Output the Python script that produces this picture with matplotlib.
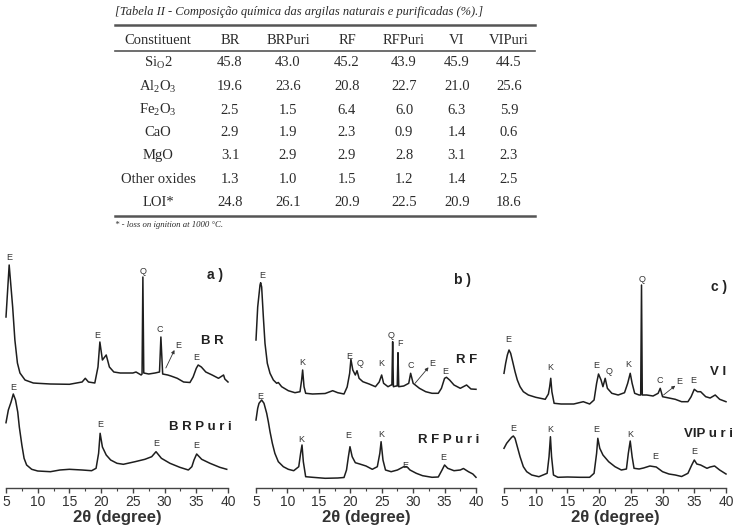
import matplotlib
matplotlib.use("Agg")
import matplotlib.pyplot as plt
from matplotlib.lines import Line2D
from matplotlib.ticker import MultipleLocator

plt.rcParams['mathtext.fontset'] = 'custom'
plt.rcParams['mathtext.rm'] = 'Liberation Serif'
plt.rcParams['mathtext.it'] = 'Liberation Serif:italic'

# ---------------- table data ----------------
table_title = "[Tabela II - Composição química das argilas naturais e purificadas (%).]"
table_note = "* - loss on ignition at 1000 °C."
col_header = "Constituent"
samples = ["BR", "BRPuri", "RF", "RFPuri", "VI", "VIPuri"]
constituents = [r"Si$_\mathrm{O}$2", r"Al$_\mathrm{2}$O$_\mathrm{3}$", r"Fe$_\mathrm{2}$O$_\mathrm{3}$",
                "CaO", "MgO", "Other oxides", "LOI*"]
BR_comp = [45.8, 19.6, 2.5, 2.9, 3.1, 1.3, 24.8]
BRPuri_comp = [43.0, 23.6, 1.5, 1.9, 2.9, 1.0, 26.1]
RF_comp = [45.2, 20.8, 6.4, 2.3, 2.9, 1.5, 20.9]
RFPuri_comp = [43.9, 22.7, 6.0, 0.9, 2.8, 1.2, 22.5]
VI_comp = [45.9, 21.0, 6.3, 1.4, 3.1, 1.4, 20.9]
VIPuri_comp = [44.5, 25.6, 5.9, 0.6, 2.3, 2.5, 18.6]

# ---------------- XRD data (2theta, relative intensity) ----------------
BR_x = [5.0, 5.5, 6.05, 6.4, 6.8, 7.2, 8.0, 9.3, 10.0, 12.0, 15.0, 17.0, 17.5, 18.0, 19.0, 19.5, 19.8, 20.2,
        20.8, 21.3, 22.0, 23.0, 25.0, 25.5, 26.3, 26.45, 26.58, 26.72, 27.5, 28.5, 29.2, 29.42, 29.7, 30.5,
        31.0, 32.0, 33.0, 34.0, 34.5, 35.0, 35.3, 35.8, 36.5, 37.5, 38.5, 39.3, 39.5, 40.0]
BR_I = [171, 223, 181, 148, 125, 115, 108, 105, 104.7, 104, 103.7, 106, 109.7, 106, 105, 121, 146, 128,
        133, 121, 116, 115, 115, 116, 113, 114, 211, 115, 114, 115, 116, 151, 114, 113,
        112, 109.7, 106, 105.5, 111, 119.7, 123, 121, 116, 113, 109.7, 113, 109, 106]

BRPuri_x = [5.0, 5.37, 5.8, 6.15, 6.5, 6.85, 7.1, 7.5, 7.85, 8.25, 9.05, 10.0, 12.0, 13.5, 15.0, 17.0, 18.5,
            19.2, 19.6, 19.84, 20.2, 20.8, 21.5, 22.5, 23.5, 25.34, 26.9, 27.97, 28.65, 29.5, 30.85, 32.4,
            33.75, 34.3, 34.64, 35.06, 35.85, 37.16, 38.7, 39.8]
BRPuri_I = [65.3, 78, 86, 94, 88, 76, 61, 43, 29.7, 23, 18.7, 17, 16.3, 18, 18.7, 18, 17.3,
            19.7, 34.7, 54.7, 41, 33, 28, 24.7, 23.7, 26.3, 28.7, 31.3, 36.3, 29.7, 24.7, 20.7,
            18, 21.3, 28, 34, 28.7, 24.7, 20.7, 18.7]

RF_x = [5.0, 5.27, 5.64, 5.74, 5.9, 6.17, 6.43, 6.8, 7.23, 7.76, 8.29, 8.55, 9.08, 10.14, 11.2, 12.0, 12.26,
        12.42, 12.64, 12.9, 14.0, 16.0, 17.2, 18.0, 19.0, 19.5, 19.9, 20.1, 20.4, 20.8, 21.07, 21.4, 22.0,
        23.0, 24.0, 24.6, 24.99, 25.3, 26.0, 26.5, 26.62, 26.74, 26.86, 27.3, 27.47, 27.59, 27.71, 28.5,
        29.3, 29.6, 30.0, 31.0, 32.0, 33.0, 34.0, 34.5, 35.0, 35.3, 35.8, 36.5, 37.5, 38.5, 39.2, 40.0]
RF_I = [148, 181, 203, 205.3, 201, 171, 144.7, 124.7, 114.7, 108, 104.7, 105.5, 101.3, 97.3, 95.3, 96.3, 108,
        118, 101.3, 94.7, 94, 94.5, 97.3, 95.3, 94, 101, 114.7, 128.7, 118, 113, 117.3, 109.7, 106.3,
        104, 101.3, 106, 113, 104.7, 101.3, 103, 103, 146.3, 101.3, 102, 102, 135.3, 101.3, 102,
        104.7, 114.7, 104.7, 99.7, 96.3, 94.7, 94.7, 99.7, 109.7, 110.7, 108, 103, 99.7, 103, 99, 98.7]

RFPuri_x = [5.0, 5.27, 5.48, 5.9, 6.27, 6.7, 6.96, 7.23, 7.6, 8.0, 8.55, 9.35, 10.14, 11.0, 11.8, 12.1, 12.32,
            12.53, 12.9, 14.0, 16.0, 18.0, 19.0, 19.4, 19.7, 19.95, 20.3, 20.8, 21.5, 22.5, 23.5, 24.3,
            24.7, 24.9, 25.2, 25.6, 26.5, 27.5, 28.5, 29.0, 29.5, 30.5, 31.5, 33.0, 34.0, 34.6, 35.0, 35.5,
            36.5, 37.5, 38.0, 38.8, 39.5, 40.0]
RFPuri_I = [68, 79.7, 84.7, 88, 84.7, 74.7, 66.3, 56.3, 44.7, 34.7, 26.3, 21.3, 18.7, 17.3, 21.3, 34.7, 43,
            26.3, 11.3, 10.7, 9.7, 10, 10.5, 18, 31.3, 41.3, 31.3, 25.3, 24, 22, 18.7, 21.3,
            34.7, 46.3, 28, 18, 16.3, 18, 21.3, 21.3, 18, 14.7, 12.3, 10.7, 11, 18, 23, 19.7,
            17.3, 18, 19.5, 16.3, 14, 10.7]

VI_x = [5.0, 5.26, 5.53, 5.79, 6.05, 6.37, 6.74, 7.1, 7.53, 8.05, 8.84, 10.0, 11.5, 12.0, 12.2, 12.37, 12.55,
        12.9, 14.0, 16.0, 17.5, 18.5, 19.2, 19.6, 19.9, 20.3, 20.6, 20.95, 21.3, 22.0, 23.0, 24.0, 24.5,
        24.9, 25.2, 25.6, 26.3, 26.55, 26.68, 26.8, 27.5, 28.5, 29.3, 29.63, 30.0, 31.0, 32.0, 33.0, 34.0,
        34.5, 35.0, 35.5, 36.0, 36.8, 37.5, 38.3, 39.0, 40.0]
VI_I = [114.7, 124.7, 133, 138, 134.7, 126.3, 116.3, 108, 101.3, 96.3, 93, 90.7, 88.7, 94, 101.3, 109.7, 96.3,
        84.7, 84, 84, 86.3, 84, 88, 104.7, 114, 108, 101.3, 109.7, 99.7, 94.7, 93, 95.3, 104.7,
        114.7, 104.7, 94.7, 93, 93, 203, 93, 93, 92, 94.7, 99.7, 91.3, 90, 88.7, 86.3, 86.3,
        91.3, 98.7, 96.3, 96.3, 91.3, 90, 93, 88.7, 86.3]

VIPuri_x = [5.0, 5.42, 5.84, 6.2, 6.47, 6.74, 7.1, 7.53, 8.05, 8.58, 9.37, 10.5, 11.8, 12.1, 12.32, 12.5, 12.8,
            13.5, 15.0, 17.0, 18.5, 19.2, 19.6, 19.79, 20.1, 20.6, 21.5, 22.5, 23.5, 24.3, 24.6, 24.9, 25.2,
            25.5, 26.3, 27.0, 28.0, 29.0, 30.0, 31.0, 32.0, 33.0, 34.0, 34.6, 35.0, 35.4, 36.0, 37.0, 37.5,
            38.2, 39.0, 40.0]
VIPuri_I = [39.7, 44.7, 48, 50.7, 52, 49.7, 41.3, 31.3, 21.3, 16.3, 13, 11.3, 14.7, 31.3, 51.3, 31.3, 13,
            10.7, 11, 10.7, 10.7, 14.7, 34.7, 49.7, 39.7, 33, 26.3, 21.3, 18, 19, 34.7, 47, 31.3,
            19.7, 19, 20, 22, 21, 16.3, 14, 13, 11.5, 14.7, 23, 28, 24, 23, 19.7, 21,
            22, 18, 14]

# phase labels: letter, 2theta, intensity where label sits
BR_tags = ["E", "E", "Q", "C", "E"]
BR_tag_x = [5.5, 19.4, 26.58, 29.3, 34.95]
BR_tag_y = [230, 153, 216, 159, 131]
BRPuri_tags = ["E", "E", "E", "E"]
BRPuri_tag_x = [6.2, 19.9, 28.65, 34.95]
BRPuri_tag_y = [101, 63.7, 44.7, 42]

RF_tags = ["E", "K", "E", "Q", "K", "Q", "F", "C", "E"]
RF_tag_x = [6.06, 12.42, 19.85, 21.6, 24.9, 26.47, 27.85, 29.6, 35.17]
RF_tag_y = [213, 125.7, 131.3, 124.7, 124.7, 152.3, 144.7, 122.3, 117]
RFPuri_tags = ["E", "K", "E", "K", "E", "E"]
RFPuri_tag_x = [5.64, 12.26, 19.7, 24.9, 28.7, 34.8]
RFPuri_tag_y = [91.3, 48.7, 53, 53.7, 23, 30.7]

VI_tags = ["E", "K", "E", "Q", "K", "Q", "C", "E"]
VI_tag_x = [5.68, 12.26, 19.5, 21.5, 24.6, 26.7, 29.6, 34.9]
VI_tag_y = [149, 120.3, 122, 116.3, 123.7, 208, 107.3, 107.3]
VIPuri_tags = ["E", "K", "E", "K", "E", "E"]
VIPuri_tag_x = [6.47, 12.26, 19.5, 24.9, 28.8, 35.0]
VIPuri_tag_y = [59.7, 59, 59, 53.7, 31.3, 36.3]

# arrow-labelled E reflection (label position, arrow tail on curve)
arrow_E = {
    "a": ((32.16, 142), (30.2, 120)),
    "b": ((33.05, 124.7), (30.3, 104.7)),
    "c": ((32.6, 106.3), (30.15, 93)),
}

# ---------------- figure ----------------
W, H = 734, 532
fig = plt.figure(figsize=(W / 100, H / 100), dpi=100)
fig.patch.set_facecolor("white")


def fx(p):
    return p / W


def fy(p):
    return 1 - p / H


tcol = "#2b2b2b"
serif = "Liberation Serif"

fig.text(fx(115), fy(12), table_title, family=serif, style="italic", fontsize=9.0,
         color=tcol, va="center", ha="left")
for yy, lw in [(25, 1.8), (51, 1.2), (216, 1.8)]:
    fig.add_artist(Line2D([fx(115), fx(535)], [fy(yy), fy(yy)], color="#555555", lw=lw))

col_px = [158, 230, 288, 347, 404, 457, 509]
row_py = [63, 87, 110, 133, 156, 179, 202]
fig.text(fx(col_px[0]), fy(40), col_header, family=serif, fontsize=10.5, color=tcol, ha="center", va="center")
for cx, s in zip(col_px[1:], samples):
    fig.text(fx(cx), fy(40), s, family=serif, fontsize=10.5, color=tcol, ha="center", va="center")
columns = [BR_comp, BRPuri_comp, RF_comp, RFPuri_comp, VI_comp, VIPuri_comp]
for i, name in enumerate(constituents):
    fig.text(fx(col_px[0]), fy(row_py[i]), name, family=serif, fontsize=10.5, color=tcol,
             ha="center", va="center")
    for cx, col in zip(col_px[1:], columns):
        fig.text(fx(cx), fy(row_py[i]), f"{col[i]:.1f}", family=serif, fontsize=10.5, color=tcol,
                 ha="center", va="center")
fig.text(fx(115), fy(225), table_note, family=serif, style="italic", fontsize=6.3, color=tcol,
         ha="left", va="center")

# ---------------- XRD panels ----------------
panels = [
    ("a", 6, 228, "a )", (215, 275), (BR_x, BR_I, BR_tags, BR_tag_x, BR_tag_y, "B R", 37.5, 147),
     (BRPuri_x, BRPuri_I, BRPuri_tags, BRPuri_tag_x, BRPuri_tag_y, "B R P u r i", 35.6, 61)),
    ("b", 256, 476, "b )", (462, 280), (RF_x, RF_I, RF_tags, RF_tag_x, RF_tag_y, "R F", 38.5, 128),
     (RFPuri_x, RFPuri_I, RFPuri_tags, RFPuri_tag_x, RFPuri_tag_y, "R F P u r i", 35.6, 48)),
    ("c", 504, 726, "c )", (719, 287), (VI_x, VI_I, VI_tags, VI_tag_x, VI_tag_y, "V I", 38.8, 116),
     (VIPuri_x, VIPuri_I, VIPuri_tags, VIPuri_tag_x, VIPuri_tag_y, "VIP u r i", 37.3, 54)),
]

ax_bottom, ax_top = 488, 250
sans = "Liberation Sans"
lcol = "#1e1e1e"
for key, x0, x1, ptitle, (tx, ty), top, bot in panels:
    ax = fig.add_axes([fx(x0), (H - ax_bottom) / H, (x1 - x0) / W, (ax_bottom - ax_top) / H])
    ax.set_xlim(5, 40)
    ax.set_ylim(0, ax_bottom - ax_top)
    for sp in ["left", "right", "top"]:
        ax.spines[sp].set_visible(False)
    ax.spines["bottom"].set_color("#444444")
    ax.spines["bottom"].set_linewidth(1.0)
    ax.set_yticks([])
    ax.xaxis.set_major_locator(MultipleLocator(5))
    ax.xaxis.set_minor_locator(MultipleLocator(2.5))
    ax.tick_params(axis="x", which="major", length=3.5, width=1, color="#444444", labelsize=10,
                   labelcolor="#333333", pad=1.5)
    ax.tick_params(axis="x", which="minor", length=2, width=0.8, color="#444444")
    for lab in ax.get_xticklabels():
        lab.set_family(sans)
    ax.set_xlabel("2θ (degree)", family=sans, fontsize=12, fontweight="bold", color="#333333", labelpad=0.5)
    ax.patch.set_alpha(0)

    for xs, ys, tags, tgx, tgy, name, nx, ny in (top, bot):
        ax.plot(xs, ys, color=lcol, lw=1.1, clip_on=False)
        for t, a, b in zip(tags, tgx, tgy):
            ax.text(a, b, t, family=sans, fontsize=6.5, color="#333333", ha="center", va="center")
        ax.text(nx, ny, name, family=sans, fontsize=9.5, fontweight="bold", color="#222222",
                ha="center", va="center")
    (lx, ly), (ax_, ay_) = arrow_E[key]
    ax.text(lx, ly, "E", family=sans, fontsize=6.5, color="#333333", ha="center", va="center")
    ax.annotate("", xy=(lx - 0.6, ly - 4), xytext=(ax_, ay_),
                arrowprops=dict(arrowstyle="-|>", lw=0.6, color="#333333", mutation_scale=5,
                                shrinkA=0, shrinkB=0))
    fig.text(fx(tx), fy(ty), ptitle, family=sans, fontsize=10, fontweight="bold", color="#222222",
             ha="center", va="center")

fig.savefig("out.png", dpi=100)
